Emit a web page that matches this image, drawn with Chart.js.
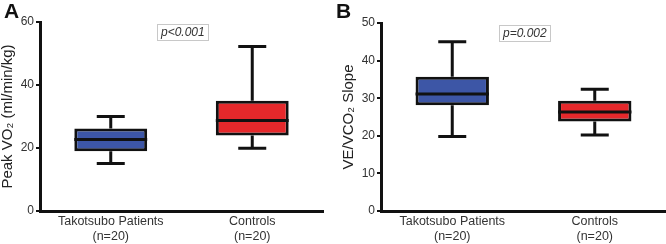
<!DOCTYPE html>
<html>
<head>
<meta charset="utf-8">
<script src="https://cdn.jsdelivr.net/npm/chart.js@4.4.1/dist/chart.umd.min.js"></script>
<style>
  body { margin: 0; background: #fff; }
  #wrap { position: relative; width: 666px; height: 244px; font-family: "Liberation Sans", Arial, sans-serif; }
  canvas { position: absolute; top: 0; }
  #chartA { left: 0; }
  #chartB { left: 333px; }
  .panel { position: absolute; font-weight: bold; font-size: 21px; color: #111; line-height: 1; }
  .pval { position: absolute; border: 1px solid #c8c8c8; font-style: italic; font-size: 12px; color: #333;
          line-height: 15px; padding: 0 3px; background: #fff; }
</style>
</head>
<body>
<div id="wrap">
  <canvas id="chartA" width="333" height="244"></canvas>
  <canvas id="chartB" width="333" height="244"></canvas>
  <div class="panel" style="left:4px; top:0px;">A</div>
  <div class="panel" style="left:336px; top:0px;">B</div>
  <div class="pval" style="left:157px; top:24px;">p&lt;0.001</div>
  <div class="pval" style="left:499px; top:25px;">p=0.002</div>
</div>
<script>
// categories
const groups = [["Takotsubo Patients", "(n=20)"], ["Controls", "(n=20)"]];
const boxColors = ["#3d56a6", "#e5282b"];

// Panel A: Peak VO2 (ml/min/kg)
const peakMin = [15.1, 19.9];
const peakQ1 = [19.0, 24.0];
const peakMed = [22.7, 28.7];
const peakQ3 = [26.2, 35.0];
const peakMax = [30.0, 52.2];

// Panel B: VE/VCO2 slope
const slopeMin = [19.8, 20.2];
const slopeQ1 = [28.1, 23.8];
const slopeMed = [31.1, 26.3];
const slopeQ3 = [35.7, 29.3];
const slopeMax = [45.0, 32.4];

const FONT = "'Liberation Sans', Arial, sans-serif";

// draws whiskers, caps and the median line on top of the floating bars
const whiskerPlugin = {
    id: "whiskers",
    afterDatasetsDraw(chart, args, opts) {
        const { ctx } = chart;
        const x = chart.scales.x, y = chart.scales.y;
        const meta = chart.getDatasetMeta(0);
        ctx.save();
        ctx.strokeStyle = "#111";
        ctx.lineWidth = 3;
        opts.min.forEach((lo, i) => {
            const cx = x.getPixelForValue(i);
            const half = meta.data[i].width / 2;
            const capHalf = 14;
            const yMin = y.getPixelForValue(lo);
            const yMax = y.getPixelForValue(opts.max[i]);
            const yQ1 = y.getPixelForValue(opts.q1[i]);
            const yQ3 = y.getPixelForValue(opts.q3[i]);
            const yMed = y.getPixelForValue(opts.med[i]);
            ctx.beginPath();
            ctx.moveTo(cx, yQ3); ctx.lineTo(cx, yMax);
            ctx.moveTo(cx - capHalf, yMax); ctx.lineTo(cx + capHalf, yMax);
            ctx.moveTo(cx, yQ1); ctx.lineTo(cx, yMin);
            ctx.moveTo(cx - capHalf, yMin); ctx.lineTo(cx + capHalf, yMin);
            ctx.moveTo(cx - half, yMed); ctx.lineTo(cx + half, yMed);
            ctx.stroke();
        });
        ctx.restore();
    }
};

function makeChart(id, cfg) {
    return new Chart(document.getElementById(id), {
        type: "bar",
        data: {
            labels: groups,
            datasets: [{
                data: cfg.q1.map((v, i) => [v, cfg.q3[i]]),
                backgroundColor: boxColors,
                borderColor: "#111",
                borderWidth: 3,
                borderSkipped: false,
                barPercentage: 0.515,
                categoryPercentage: 1
            }]
        },
        options: {
            responsive: false,
            animation: false,
            devicePixelRatio: 1,
            layout: { padding: cfg.padding },
            plugins: {
                legend: { display: false },
                tooltip: { enabled: false },
                whiskers: { min: cfg.min, q1: cfg.q1, med: cfg.med, q3: cfg.q3, max: cfg.max }
            },
            scales: {
                x: {
                    grid: { display: false, drawTicks: false },
                    border: { color: "#111", width: 3 },
                    ticks: { color: "#333", padding: 3, font: { family: FONT, size: 12.5 } },
                    afterFit: s => { s.height = 33; }
                },
                y: {
                    min: 0,
                    max: cfg.max_y,
                    ticks: { stepSize: cfg.step, color: "#333", padding: 2, font: { family: FONT, size: 12 } },
                    grid: { drawOnChartArea: false, drawTicks: true, tickLength: 4, color: "#111", lineWidth: 2 },
                    border: { color: "#111", width: 3 },
                    title: {
                        display: true,
                        text: cfg.title,
                        color: "#222",
                        padding: 0,
                        font: { family: FONT, size: 15, lineHeight: 1 }
                    },
                    afterFit: s => { s.width = 40; }
                }
            }
        },
        plugins: [whiskerPlugin]
    });
}

makeChart("chartA", {
    min: peakMin, q1: peakQ1, med: peakMed, q3: peakQ3, max: peakMax,
    max_y: 60, step: 20, title: "Peak VO\u2082 (ml/min/kg)",
    padding: { left: 0, right: 10, top: 22, bottom: 0 }
});

makeChart("chartB", {
    min: slopeMin, q1: slopeQ1, med: slopeMed, q3: slopeQ3, max: slopeMax,
    max_y: 50, step: 10, title: "VE/VCO\u2082 Slope",
    padding: { left: 8, right: 0, top: 23, bottom: 0 }
});
</script>
</body>
</html>
